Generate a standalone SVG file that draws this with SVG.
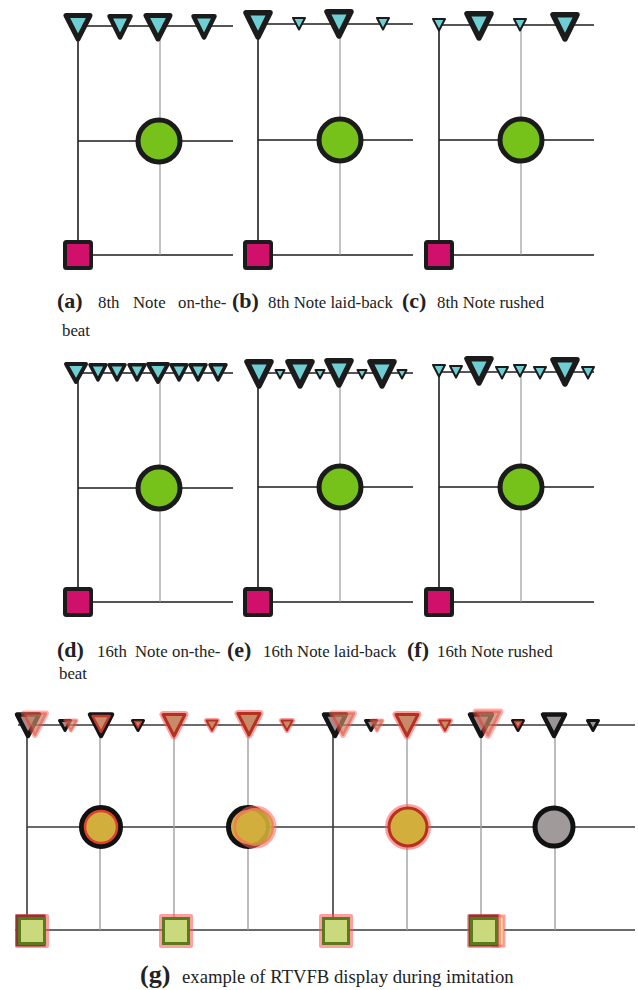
<svg xmlns="http://www.w3.org/2000/svg" xmlns:xlink="http://www.w3.org/1999/xlink" width="638" height="990" viewBox="0 0 638 990">
<style>
.tri{fill:#6dcfd4;stroke:#1b1b1b;stroke-linejoin:round}
.ln{stroke:#1e1e1e;stroke-width:1.6;fill:none}
.gl{stroke:#9a9a9a;stroke-width:1.2;fill:none}
.gln{stroke:#3a3a3a;stroke-width:1.6;fill:none}
.ggl{stroke:#a0a0a0;stroke-width:1.4;fill:none}
.ball{fill:#76c11a;stroke:#1b1b1b;stroke-width:5}
.sq{fill:#d1106b;stroke:#1b1b1b;stroke-width:4}
.cap{font-family:"Liberation Serif","Times New Roman",serif;font-size:16.8px;fill:#222}
.lab{font-family:"Liberation Serif","Times New Roman",serif;font-weight:bold;font-size:22px;fill:#222}
.gold{fill:#d2ae3c}
.halo{fill:none;stroke:#ff5252;stroke-opacity:0.55;stroke-linejoin:round}
</style>
<defs>
<polygon id="tA" points="-12,2.5 12,2.5 0,26" stroke-width="5"/>
<polygon id="tB" points="-10.5,2.2 10.5,2.2 0,23.5" stroke-width="4.5"/>
<polygon id="tC" points="-10,2 10,2 0,20" stroke-width="4"/>
<polygon id="tD" points="-8,1.8 8,1.8 0,17" stroke-width="3.5"/>
<polygon id="tE" points="-12,2.8 12,2.8 0,27" stroke-width="5.5"/>
<polygon id="tF" points="-6,1 6,1 0,12.5" stroke-width="2"/>
<polygon id="tG" points="-4.5,1 4.5,1 0,9.5" stroke-width="2"/>
<g id="gBlkB"><polygon points="-11,2.5 11,2.5 0,24" fill="#9a9494" stroke="#141414" stroke-width="4.5" stroke-linejoin="round"/></g>
<g id="gBlkS"><polygon points="-5.5,1.5 5.5,1.5 0,11.5" fill="#9a9494" stroke="#141414" stroke-width="3" stroke-linejoin="round"/></g>
<g id="gRedB"><polygon class="halo" points="-11,2.5 11,2.5 0,24" stroke-width="7"/><polygon points="-11,2.5 11,2.5 0,24" fill="#c98a6a" stroke="#b4301f" stroke-width="3" stroke-linejoin="round"/></g>
<g id="gRedS"><polygon class="halo" points="-5.5,1.5 5.5,1.5 0,11.5" stroke-width="5"/><polygon points="-5.5,1.5 5.5,1.5 0,11.5" fill="#c98a6a" stroke="#b4301f" stroke-width="2" stroke-linejoin="round"/></g>
<g id="gGhostB" opacity="0.8"><polygon class="halo" points="-11,2.5 11,2.5 0,24" stroke-width="6"/><polygon points="-11,2.5 11,2.5 0,24" fill="#c98a6a" fill-opacity="0.85" stroke="#e04030" stroke-opacity="0.7" stroke-width="2.5" stroke-linejoin="round"/></g>
<g id="gGhostS" opacity="0.8"><polygon class="halo" points="-5.5,1.5 5.5,1.5 0,11.5" stroke-width="4"/><polygon points="-5.5,1.5 5.5,1.5 0,11.5" fill="#c98a6a" fill-opacity="0.8" stroke="#e04030" stroke-opacity="0.7" stroke-width="2" stroke-linejoin="round"/></g>
<g id="gInB"><polygon points="-8.5,4 8.5,4 0,20" fill="#c98a6a" stroke="#c0392b" stroke-width="2.5" stroke-linejoin="round"/></g>
<g id="gInS"><polygon points="-3.5,2.5 3.5,2.5 0,9" fill="#c98a6a" stroke="#c0392b" stroke-width="1.5" stroke-linejoin="round"/></g>
<g id="gSq"><rect class="halo" x="-15" y="-15" width="30" height="30" stroke-width="4"/><rect x="-12.5" y="-12.5" width="25" height="25" fill="#c9d97b" stroke="#5b7a1e" stroke-width="3"/></g>
</defs>

<g id="connectors">
<!-- panel a -->
<path class="ln" d="M78 26H233M78 26V242M78 141H233M91 255H233"/>
<path class="gl" d="M160 26V255"/>
<!-- panel b -->
<path class="ln" d="M258 24H413M258 24V242M258 140H413M271 255H413"/>
<path class="gl" d="M340 24V255"/>
<!-- panel c -->
<path class="ln" d="M439 25H594M439 25V242M439 140H594M452 255H594"/>
<path class="gl" d="M521 25V255"/>
<!-- panel d -->
<path class="ln" d="M78 373H233M78 373V589M78 488H233M91 602H233"/>
<path class="gl" d="M160 373V602"/>
<!-- panel e -->
<path class="ln" d="M258 373H413M258 373V589M258 487H413M271 602H413"/>
<path class="gl" d="M340 373V602"/>
<!-- panel f -->
<path class="ln" d="M439 372H594M439 372V589M439 487H594M452 602H594"/>
<path class="gl" d="M521 372V602"/>
<!-- panel g -->
<path class="gln" d="M18 725H635M27 827H635M15 930H635M27 725V930M333 725V930"/>
<path class="ggl" d="M100 725V930M174 725V930M248 725V930M407 725V930M481 725V930M555 725V930"/>
</g>

<g id="panel-a">
<g id="a-hihat" class="tri">
<use xlink:href="#tA" x="78" y="13"/><use xlink:href="#tB" x="120" y="14"/><use xlink:href="#tA" x="158" y="13"/><use xlink:href="#tB" x="204" y="14"/>
</g>
<g id="a-snare"><circle class="ball" cx="159" cy="141" r="21"/></g>
<g id="a-kick"><rect class="sq" x="65" y="242" width="26" height="26" rx="1.5"/></g>
</g>

<g id="panel-b">
<g id="b-hihat" class="tri">
<use xlink:href="#tE" x="258" y="10"/><use xlink:href="#tF" x="299" y="17"/><use xlink:href="#tE" x="339" y="9"/><use xlink:href="#tF" x="383" y="17"/>
</g>
<g id="b-snare"><circle class="ball" cx="340" cy="140" r="21"/></g>
<g id="b-kick"><rect class="sq" x="245" y="242" width="26" height="26" rx="1.5"/></g>
</g>

<g id="panel-c">
<g id="c-hihat" class="tri">
<use xlink:href="#tF" x="439" y="18"/><use xlink:href="#tE" x="479" y="11"/><use xlink:href="#tF" x="520" y="18"/><use xlink:href="#tE" x="565" y="12"/>
</g>
<g id="c-snare"><circle class="ball" cx="521" cy="140" r="21"/></g>
<g id="c-kick"><rect class="sq" x="426" y="242" width="26" height="26" rx="1.5"/></g>
</g>

<g id="panel-d">
<g id="d-hihat" class="tri">
<use xlink:href="#tC" x="76" y="362"/><use xlink:href="#tD" x="98" y="363"/><use xlink:href="#tD" x="117" y="363"/><use xlink:href="#tD" x="137" y="363"/>
<use xlink:href="#tC" x="158" y="362"/><use xlink:href="#tD" x="179" y="363"/><use xlink:href="#tD" x="198" y="363"/><use xlink:href="#tD" x="218" y="363"/>
</g>
<g id="d-snare"><circle class="ball" cx="159" cy="488" r="21"/></g>
<g id="d-kick"><rect class="sq" x="65" y="589" width="26" height="26" rx="1.5"/></g>
</g>

<g id="panel-e">
<g id="e-hihat" class="tri">
<use xlink:href="#tE" x="259" y="359"/><use xlink:href="#tG" x="280" y="369"/><use xlink:href="#tE" x="300" y="359"/><use xlink:href="#tG" x="320" y="369"/>
<use xlink:href="#tE" x="339" y="358"/><use xlink:href="#tG" x="362" y="369"/><use xlink:href="#tE" x="382" y="359"/><use xlink:href="#tG" x="402" y="369"/>
</g>
<g id="e-snare"><circle class="ball" cx="340" cy="487" r="21"/></g>
<g id="e-kick"><rect class="sq" x="245" y="589" width="26" height="26" rx="1.5"/></g>
</g>

<g id="panel-f">
<g id="f-hihat" class="tri">
<use xlink:href="#tF" x="439" y="364"/><use xlink:href="#tF" x="456" y="365"/><use xlink:href="#tE" x="479" y="356"/><use xlink:href="#tF" x="502" y="366"/>
<use xlink:href="#tF" x="520" y="364"/><use xlink:href="#tF" x="540" y="366"/><use xlink:href="#tE" x="565" y="357"/><use xlink:href="#tF" x="588" y="366"/>
</g>
<g id="f-snare"><circle class="ball" cx="521" cy="487" r="21"/></g>
<g id="f-kick"><rect class="sq" x="426" y="589" width="26" height="26" rx="1.5"/></g>
</g>

<g id="panel-g">
<g id="g-hihat">
<use xlink:href="#gBlkB" x="28" y="712"/><use xlink:href="#gGhostB" x="35" y="711"/>
<use xlink:href="#gBlkS" x="65" y="719"/><use xlink:href="#gGhostS" x="71" y="719"/>
<use xlink:href="#gBlkB" x="101" y="712"/><use xlink:href="#gInB" x="101" y="712"/>
<use xlink:href="#gBlkS" x="138" y="719"/><use xlink:href="#gInS" x="138" y="719"/>
<use xlink:href="#gRedB" x="174" y="712"/>
<use xlink:href="#gRedS" x="212" y="719"/>
<use xlink:href="#gRedB" x="249" y="711"/>
<use xlink:href="#gRedS" x="287" y="719"/>
<use xlink:href="#gBlkB" x="335" y="712"/><use xlink:href="#gGhostB" x="343" y="711"/>
<use xlink:href="#gBlkS" x="371" y="719"/><use xlink:href="#gGhostS" x="377" y="719"/>
<use xlink:href="#gRedB" x="407" y="712"/>
<use xlink:href="#gRedS" x="445" y="719"/>
<use xlink:href="#gBlkB" x="481" y="712"/><use xlink:href="#gGhostB" x="488" y="709" transform="translate(488 709) scale(1.1) translate(-488 -709)"/>
<use xlink:href="#gBlkS" x="518" y="719"/><use xlink:href="#gInS" x="518" y="719"/>
<use xlink:href="#gBlkB" x="554" y="712"/>
<use xlink:href="#gBlkS" x="593" y="719"/>
</g>
<g id="g-snare">
<circle cx="101" cy="827" r="19.5" fill="#111" stroke="#111" stroke-width="5"/>
<circle class="gold" cx="101" cy="827" r="16" stroke="#e0402a" stroke-width="2.5"/>
<circle class="gold" cx="248" cy="827" r="19.5" stroke="#111" stroke-width="5"/>
<circle cx="255" cy="827" r="19" fill="#d2ae3c" fill-opacity="0.9" stroke="#ff6060" stroke-opacity="0.55" stroke-width="5"/>
<circle cx="251" cy="827" r="15" fill="#d2ae3c"/>
<circle class="halo" cx="408" cy="827" r="20" stroke-width="6"/>
<circle class="gold" cx="408" cy="827" r="19" stroke="#b8301f" stroke-width="3"/>
<circle cx="554" cy="827" r="19" fill="#a09a9a" stroke="#111" stroke-width="5"/>
</g>
<g id="g-kick">
<rect x="17" y="916" width="27" height="29" fill="none" stroke="#111" stroke-width="3"/>
<use xlink:href="#gSq" x="32" y="931"/>
<use xlink:href="#gSq" x="176" y="931"/>
<use xlink:href="#gSq" x="336" y="931"/>
<rect x="493" y="916" width="11" height="30" fill="#f2f2a8" stroke="#ff5252" stroke-opacity="0.55" stroke-width="3"/>
<rect x="470" y="916" width="27" height="29" fill="none" stroke="#111" stroke-width="3"/>
<use xlink:href="#gSq" x="484" y="931"/>
</g>
</g>

<g id="captions">
<text class="lab" x="57" y="308">(a)</text>
<text class="cap" x="98" y="308">8th</text>
<text class="cap" x="133" y="308">Note</text>
<text class="cap" x="178" y="308">on-the-</text>
<text class="cap" x="62" y="336">beat</text>
<text class="lab" x="232" y="308">(b)</text>
<text class="cap" x="268" y="308">8th Note laid-back</text>
<text class="lab" x="402" y="308">(c)</text>
<text class="cap" x="437" y="308">8th Note rushed</text>

<text class="lab" x="57" y="657">(d)</text>
<text class="cap" x="97" y="657">16th</text>
<text class="cap" x="135" y="657">Note</text>
<text class="cap" x="172" y="657">on-the-</text>
<text class="cap" x="59" y="679">beat</text>
<text class="lab" x="227" y="657">(e)</text>
<text class="cap" x="263" y="657">16th Note laid-back</text>
<text class="lab" x="407" y="657">(f)</text>
<text class="cap" x="437" y="657">16th Note rushed</text>

<text class="lab" x="140" y="983" style="font-size:26px">(g)</text>
<text class="cap" x="182" y="983" style="font-size:18.7px">example of RTVFB display during imitation</text>
</g>
</svg>
